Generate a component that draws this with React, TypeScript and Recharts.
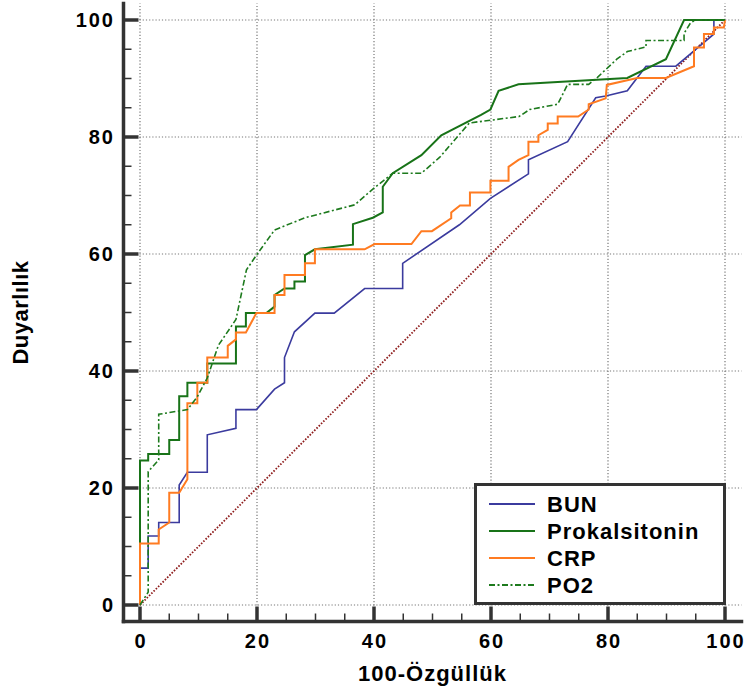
import { LineChart, Line, XAxis, YAxis, ReferenceLine, Legend } from "recharts";

// ROC curves, values (x = 100-specificity, y = sensitivity)
const bunX = [0, 0, 1.4, 1.4, 3.2, 3.2, 6.7, 6.7, 8.1, 11.5, 11.5, 16.4, 16.4, 19.9, 23, 24.7, 24.7, 26.4, 29.9, 33.2, 38.4, 44.9, 44.9, 54.6, 59.9, 66.4, 66.4, 73.1, 77.9, 79.6, 83.3, 86.5, 91.6, 98.1, 98.1, 100];
const bunY = [0, 6.3, 6.3, 11.8, 11.8, 14.1, 14.1, 20.5, 22.7, 22.7, 29.1, 30.2, 33.4, 33.4, 36.9, 38, 42.3, 46.7, 49.9, 49.9, 54.1, 54.1, 58.4, 65, 69.5, 73.7, 76.1, 79.2, 86.7, 87, 87.9, 92.1, 92.1, 97.6, 100, 100];

const proX = [0, 0, 1.4, 1.4, 5, 5, 6.7, 6.7, 8.1, 8.1, 11.5, 11.5, 16.4, 16.4, 18.1, 18.1, 21.6, 23, 23, 24.7, 26.4, 26.4, 28.2, 28.2, 29.9, 36.4, 36.4, 39.8, 41.5, 41.5, 43.2, 48.1, 51.5, 58.3, 59.9, 61.3, 64.7, 83.3, 89.9, 93, 100];
const proY = [0, 24.7, 24.7, 25.8, 25.8, 28.2, 28.2, 35.7, 35.7, 38, 38, 41.3, 41.3, 47.6, 47.6, 49.9, 49.9, 51, 53, 54.1, 54.1, 55.3, 55.3, 59.8, 60.8, 61.6, 65.1, 66.2, 67.1, 71.5, 73.8, 76.9, 80.3, 83.8, 84.7, 87.9, 89, 90.1, 93.3, 100, 100];

const crpX = [0, 0, 3.2, 3.2, 5, 5, 6.7, 8.1, 8.1, 9.8, 9.8, 11.5, 11.5, 15, 15, 16.4, 16.4, 18.1, 19.9, 23, 23, 24.7, 24.7, 28.2, 28.2, 29.9, 29.9, 38.4, 40.1, 46.4, 48.1, 49.9, 53.2, 53.2, 54.7, 56.4, 56.4, 59.9, 59.9, 63, 63, 64.7, 66.4, 66.4, 68.1, 68.1, 69.7, 69.7, 71.4, 71.4, 74.9, 76.7, 76.7, 79.6, 79.8, 83.3, 85, 89.9, 94.7, 94.7, 96.4, 96.4, 98.1, 98.1, 99.8, 100];
const crpY = [0, 10.5, 10.5, 12.9, 14.1, 19.2, 19.2, 21.5, 34.5, 34.5, 38, 38, 42.3, 42.3, 44.3, 45.4, 46.6, 46.6, 49.9, 49.9, 53, 53, 56.4, 56.4, 58.4, 58.4, 60.8, 60.8, 61.7, 61.7, 63.9, 63.9, 66.1, 67.1, 68.3, 68.3, 70.5, 70.5, 72.5, 72.5, 74.9, 76.1, 76.9, 79.2, 79.2, 80.3, 81.2, 82.3, 82.3, 83.5, 83.5, 84.7, 85.6, 86.6, 88.9, 89.7, 90.1, 90.1, 92.1, 95.3, 95.3, 97.6, 97.6, 98.7, 98.7, 100];

const po2X = [0, 1.4, 1.4, 3.2, 3.2, 8.1, 9.8, 11.5, 13.4, 16.4, 18.2, 19.9, 23, 28.2, 36.7, 39.8, 43.2, 48.1, 51.2, 56.3, 64.8, 66.6, 71.4, 73.1, 76.7, 78.2, 81.5, 83.3, 86.5, 86.5, 93, 93, 94.1, 95, 100];
const po2Y = [0, 2.2, 22.8, 24.8, 32.6, 33.4, 35.6, 38.8, 44.4, 48.8, 57.3, 59.8, 64.1, 66.2, 68.4, 71.1, 73.8, 73.8, 76.5, 82.4, 83.5, 84.7, 85.6, 89, 89, 90.2, 93.3, 94.6, 95.4, 96.5, 96.5, 97.7, 99.5, 100, 100];

const diagX = [0, 100];
const diagY = [0, 100];

const ticks = [0, 5, 10, 15, 20, 25, 30, 35, 40, 45, 50, 55, 60, 65, 70, 75, 80, 85, 90, 95, 100];
const majorTicks = [0, 20, 40, 60, 80, 100];

const zip = (xs: number[], ys: number[]) => xs.map((x, i) => ({ x, y: ys[i] }));

const series = [
  { name: "BUN", data: zip(bunX, bunY), color: "#3b3b9e", width: 1.6, dash: undefined },
  { name: "Prokalsitonin", data: zip(proX, proY), color: "#187318", width: 2, dash: undefined },
  { name: "CRP", data: zip(crpX, crpY), color: "#ff7b21", width: 2, dash: undefined },
  { name: "PO2", data: zip(po2X, po2Y), color: "#1d7a1d", width: 1.6, dash: "6 2.5 2 2.5" },
];

const FONT = "'Liberation Sans', Arial, Helvetica, sans-serif";
const AXIS = "#333";

function XTick({ x, y, payload }: any) {
  const v = payload.value;
  const major = v % 20 === 0;
  return (
    <g>
      <line x1={x} y1={y} x2={x} y2={y - (major ? 15 : 8)} stroke={AXIS} strokeWidth={major ? 3.5 : 1.5} />
      {major && (
        <text x={x + 1} y={y + 26.5} textAnchor="middle" fontFamily={FONT} fontWeight="bold" fontSize={20} letterSpacing={2} fill="#000">
          {v}
        </text>
      )}
    </g>
  );
}

function YTick({ x, y, payload }: any) {
  const v = payload.value;
  const major = v % 20 === 0;
  return (
    <g>
      <line x1={x} y1={y} x2={x + (major ? 15 : 8)} y2={y} stroke={AXIS} strokeWidth={major ? 3.5 : 1.5} />
      {major && (
        <text x={x - 8.5} y={y + 7} textAnchor="end" fontFamily={FONT} fontWeight="bold" fontSize={20} letterSpacing={2} fill="#000">
          {v}
        </text>
      )}
    </g>
  );
}

function LegendBox() {
  return (
    <div
      style={{
        width: 252,
        height: 122,
        boxSizing: "border-box",
        border: `3px solid ${AXIS}`,
        background: "#fff",
        paddingTop: 4.5,
        fontFamily: FONT,
        fontWeight: "bold",
        fontSize: 22,
        letterSpacing: 1,
        color: "#000",
      }}
    >
      {series.map((s) => (
        <div key={s.name} style={{ height: 27, display: "flex", alignItems: "center" }}>
          <svg width={46} height={6} style={{ marginLeft: 12, marginRight: 12 }}>
            <line x1={0} y1={3} x2={46} y2={3} stroke={s.color} strokeWidth={2} strokeDasharray={s.dash} />
          </svg>
          <span style={{ lineHeight: "27px" }}>{s.name}</span>
        </div>
      ))}
    </div>
  );
}

export default function App() {
  const domain: [number, number] = [-2.82, 102.82];
  return (
    <div style={{ position: "absolute", left: 0, top: 0, width: 745, height: 691, background: "#fff" }}>
      <LineChart width={745} height={691} margin={{ top: 3.5, right: 3.5, bottom: 29.5, left: 63.5 }}>
        <XAxis
          type="number"
          dataKey="x"
          domain={domain}
          ticks={ticks}
          interval={0}
          allowDataOverflow
          height={40}
          tickSize={0}
          tickMargin={0}
          tickLine={false}
          tick={<XTick />}
          axisLine={{ stroke: AXIS, strokeWidth: 3.5, strokeLinecap: "square" }}
          label={{
            content: (p: any) => (
              <text
                x={p.viewBox.x + p.viewBox.width / 2}
                y={681}
                textAnchor="middle"
                fontFamily={FONT}
                fontWeight="bold"
                fontSize={22}
                letterSpacing={1}
                fill="#000"
              >
                100-Özgüllük
              </text>
            ),
          }}
        />
        <YAxis
          type="number"
          dataKey="y"
          domain={domain}
          ticks={ticks}
          interval={0}
          allowDataOverflow
          width={60}
          tickSize={0}
          tickMargin={0}
          tickLine={false}
          tick={<YTick />}
          axisLine={{ stroke: AXIS, strokeWidth: 3.5, strokeLinecap: "square" }}
          label={{
            content: (p: any) => {
              const cy = p.viewBox.y + p.viewBox.height / 2;
              return (
                <text
                  x={28}
                  y={cy}
                  transform={`rotate(-90 28 ${cy})`}
                  textAnchor="middle"
                  fontFamily={FONT}
                  fontWeight="bold"
                  fontSize={22}
                  letterSpacing={0.5}
                  fill="#000"
                >
                  Duyarlılık
                </text>
              );
            },
          }}
        />
        {majorTicks.map((v) => (
          <ReferenceLine key={`gx${v}`} x={v} stroke="#777" strokeWidth={1.2} strokeDasharray="1.2 2" />
        ))}
        {majorTicks.map((v) => (
          <ReferenceLine key={`gy${v}`} y={v} stroke="#777" strokeWidth={1.2} strokeDasharray="1.2 2" />
        ))}
        <Line
          data={zip(diagX, diagY)}
          dataKey="y"
          type="linear"
          stroke="#8e1c1c"
          strokeWidth={1.8}
          strokeDasharray="1.6 1.6"
          dot={false}
          legendType="none"
          isAnimationActive={false}
        />
        {series.map((s) => (
          <Line
            key={s.name}
            name={s.name}
            data={s.data}
            dataKey="y"
            type="linear"
            stroke={s.color}
            strokeWidth={s.width}
            strokeDasharray={s.dash}
            dot={false}
            activeDot={false}
            isAnimationActive={false}
          />
        ))}
        <Legend
          layout="vertical"
          align="center"
          verticalAlign="middle"
          wrapperStyle={{ left: 474, top: 483, width: 252 }}
          content={() => <LegendBox />}
        />
      </LineChart>
    </div>
  );
}
